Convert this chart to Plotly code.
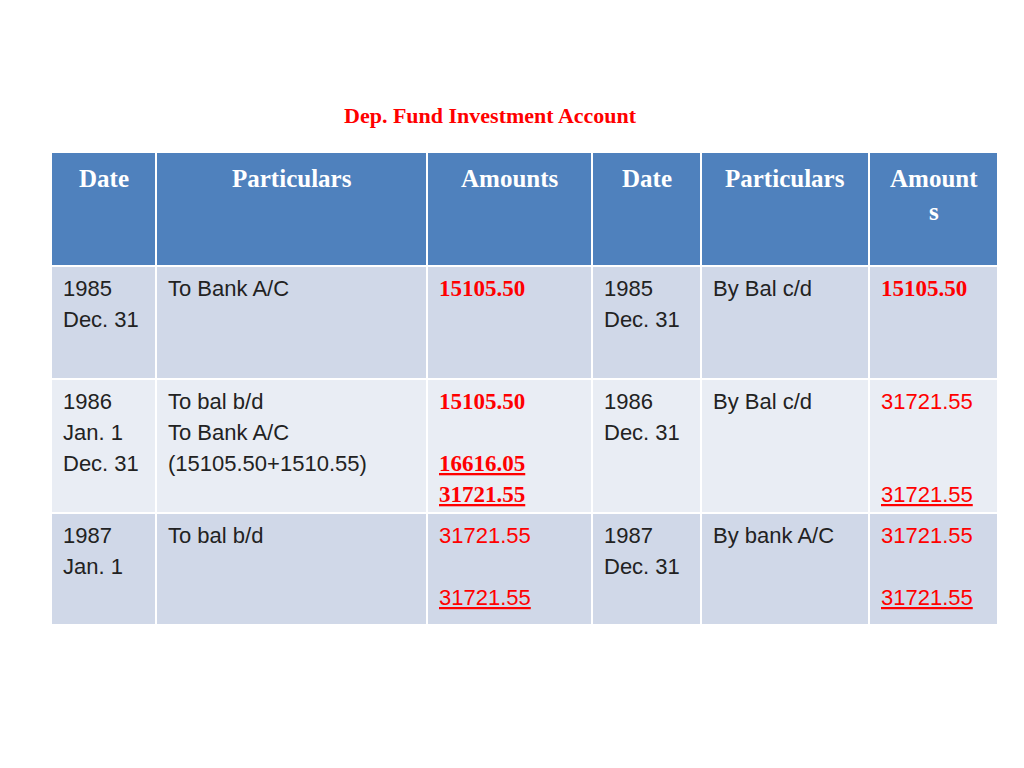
import plotly.graph_objects as go

title = "Dep. Fund Investment Account"
headers = ["Date", "Particulars", "Amounts", "Date", "Particulars", "Amount<br>s"]
col_edges = [43, 148, 419, 584, 693, 861, 990]
row_edges = [(145, 257), (259, 370), (372, 504), (506, 616)]

# style codes: "p" plain, "b" bold serif red, "bu" bold serif red underlined, "r" plain red, "ru" plain red underlined
rows = [
    [[("1985", "p"), ("Dec. 31", "p")],
     [("To Bank A/C", "p")],
     [("15105.50", "b")],
     [("1985", "p"), ("Dec. 31", "p")],
     [("By Bal c/d", "p")],
     [("15105.50", "b")]],
    [[("1986", "p"), ("Jan. 1", "p"), ("Dec. 31", "p")],
     [("To bal b/d", "p"), ("To Bank A/C", "p"), ("(15105.50+1510.55)", "p")],
     [("15105.50", "b"), ("", "p"), ("16616.05", "bu"), ("31721.55", "bu")],
     [("1986", "p"), ("Dec. 31", "p")],
     [("By Bal c/d", "p")],
     [("31721.55", "r"), ("", "p"), ("", "p"), ("31721.55", "ru")]],
    [[("1987", "p"), ("Jan. 1", "p")],
     [("To bal b/d", "p")],
     [("31721.55", "r"), ("", "p"), ("31721.55", "ru")],
     [("1987", "p"), ("Dec. 31", "p")],
     [("By bank A/C", "p")],
     [("31721.55", "r"), ("", "p"), ("31721.55", "ru")]],
]
row_fills = ["#D0D8E8", "#E9EDF4", "#D0D8E8"]

SANS = "Liberation Sans Narrow, Liberation Sans"
SERIF = "Liberation Serif"
fig = go.Figure()
shapes, anns = [], []

def cell(x0, x1, y0, y1, fill):
    shapes.append(dict(type="rect", xref="x", yref="y", x0=x0, x1=x1, y0=y0, y1=y1,
                       fillcolor=fill, line=dict(width=0), layer="below"))

for c in range(6):
    x0, x1 = col_edges[c] + 1, col_edges[c + 1] - 1
    y0, y1 = row_edges[0]
    cell(x0, x1, y0, y1, "#4F81BD")
    anns.append(dict(x=(x0 + x1) / 2, y=y0 + 10, text="<b>" + headers[c] + "</b>", xanchor="center",
                     yanchor="top", showarrow=False, align="center",
                     font=dict(family=SERIF, size=25, color="white")))

for r, row in enumerate(rows):
    y0, y1 = row_edges[r + 1]
    for c, lines in enumerate(row):
        x0, x1 = col_edges[c] + 1, col_edges[c + 1] - 1
        cell(x0, x1, y0, y1, row_fills[r])
        for i, (t, st) in enumerate(lines):
            if not t:
                continue
            y = y0 + 21 + 31 * i
            if st.startswith("b"):
                txt = "<b>" + t + "</b>"
                font = dict(family=SERIF, size=23, color="#FF0000")
            elif st.startswith("r"):
                txt = t
                font = dict(family=SANS, size=22, color="#FF0000")
            else:
                txt = t
                font = dict(family=SANS, size=22, color="#222222")
            if st.endswith("u"):
                txt = "<span style='text-decoration:underline'>" + txt + "</span>"
            anns.append(dict(x=x0 + 9, y=y, text=txt, xanchor="left", yanchor="middle",
                             showarrow=False, font=font))

anns.append(dict(x=482, y=107, text="<b>" + title + "</b>", xanchor="center", yanchor="middle",
                 showarrow=False, font=dict(family=SERIF, size=22, color="#FF0000")))

fig.update_layout(width=1024, height=768, margin=dict(l=0, r=0, t=0, b=0),
                  paper_bgcolor="white", plot_bgcolor="white",
                  xaxis=dict(range=[0, 1024], visible=False, fixedrange=True),
                  yaxis=dict(range=[768, 0], visible=False, fixedrange=True),
                  shapes=shapes, annotations=anns, showlegend=False)
fig.write_html("out.html", config={"displayModeBar": False})
